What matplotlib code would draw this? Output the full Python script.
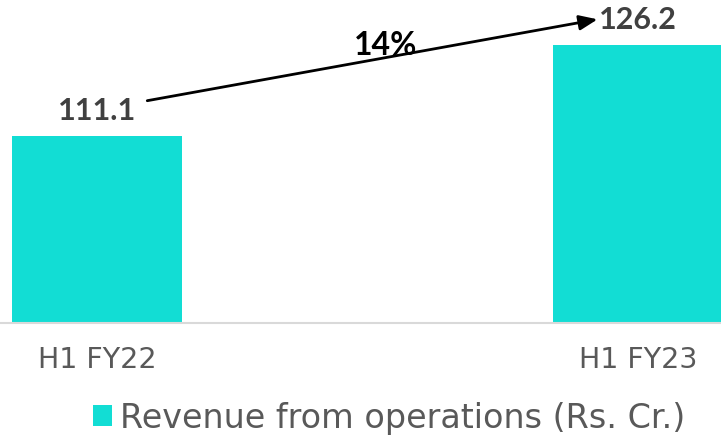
import matplotlib.pyplot as plt

# data
periods = ["H1 FY22", "H1 FY23"]
revenue = [111.1, 126.2]
growth_label = "14%"
legend_label = "Revenue from operations (Rs. Cr.)"

bar_color = "#12DDD4"

fig = plt.figure(figsize=(7.21, 4.39), dpi=100)
ax = fig.add_axes([0, 115 / 439, 1, 324 / 439])

x = list(range(len(periods)))
bars = ax.bar(x, revenue, width=0.314, color=bar_color, label=legend_label)

ax.set_xlim(-0.179, 1.153)
ax.set_ylim(80, 133.9)

for s in ["top", "right", "left"]:
    ax.spines[s].set_visible(False)
ax.spines["bottom"].set_color("#D9D9D9")
ax.spines["bottom"].set_linewidth(1.5)
ax.set_yticks([])
ax.set_xticks(x)
ax.set_xticklabels(periods, family="DejaVu Sans", fontsize=20.5, color="#595959")
ax.tick_params(axis="x", length=0, pad=16)

# value labels
for xi, v in zip(x, revenue):
    ax.annotate(f"{v:.1f}", (xi, v), xytext=(0, 9), textcoords="offset points",
                ha="center", va="bottom", family="Lato", fontweight="bold",
                fontsize=22, color="#404040")

# growth arrow
ax.annotate("", xy=(0.93, 130.6), xytext=(0.088, 116.9),
            arrowprops=dict(arrowstyle="-|>,head_length=1.1,head_width=0.45",
                            color="black", lw=2))
ax.text(0.533, 126.3, growth_label, ha="center", va="center", family="Lato",
        fontweight="bold", fontsize=23, color="black")

leg = fig.legend(loc="center", bbox_to_anchor=(0.54, 1 - 419 / 439), frameon=False,
                 handlelength=0.55, handleheight=0.6, handletextpad=0.25,
                 prop={"family": "DejaVu Sans", "size": 24})
for t in leg.get_texts():
    t.set_color("#595959")

fig.savefig("out.png", dpi=100)
